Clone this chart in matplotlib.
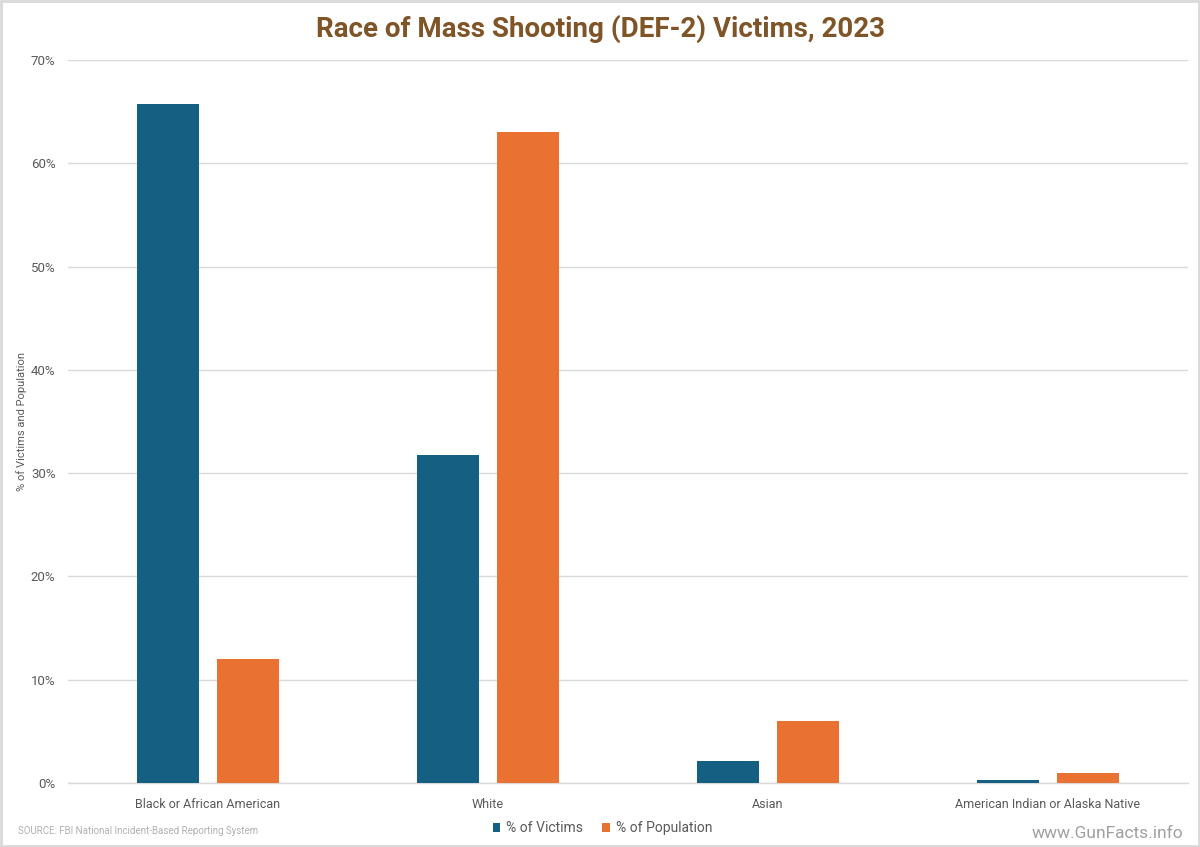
import matplotlib.pyplot as plt
import numpy as np
from matplotlib.patches import Rectangle

categories = ["Black or African American", "White", "Asian", "American Indian or Alaska Native"]
pct_victims = [65.7, 31.8, 2.1, 0.3]
pct_population = [12.0, 63.0, 6.0, 1.0]
series_names = ["% of Victims", "% of Population"]
yticks = [0, 10, 20, 30, 40, 50, 60, 70]

VICTIM_COLOR = "#155F82"
POP_COLOR = "#E97132"
NARROW = ["Roboto", "DejaVu Sans"]

fig = plt.figure(figsize=(12, 8.47), dpi=100)
ax = fig.add_axes([0.0567, 0.0756, 0.9333, 0.8535])

x = np.arange(len(categories))
width = 0.22
offset = 0.143
ax.bar(x - offset, pct_victims, width, color=VICTIM_COLOR, label=series_names[0], zorder=3)
ax.bar(x + offset, pct_population, width, color=POP_COLOR, label=series_names[1], zorder=3)

ax.set_xlim(-0.5, len(categories) - 0.5)
ax.set_ylim(0, 70)
ax.set_yticks(yticks)
ax.set_yticklabels([f"{t}%" for t in yticks], family=NARROW, fontsize=9.5, color="#595959")
ax.set_xticks(x)
ax.set_xticklabels(categories, family=NARROW, fontsize=9, color="#595959")
ax.tick_params(axis="y", length=0, pad=9)
ax.tick_params(axis="x", length=0, pad=11)
ax.yaxis.grid(True, color="#D9D9D9", linewidth=1, zorder=0)
for s in ["top", "right", "left"]:
    ax.spines[s].set_visible(False)
ax.spines["bottom"].set_color("#D9D9D9")
ax.spines["bottom"].set_linewidth(1)

fig.text(0.018, 0.502, "% of Victims and Population", rotation=90, family=NARROW,
         fontsize=8, color="#595959", ha="center", va="center")

fig.text(0.5, 0.966, "Race of Mass Shooting (DEF-2) Victims, 2023", ha="center", va="center",
         family=NARROW, fontsize=20, fontweight="bold", color="#7F5427")

leg = fig.legend(loc="center", bbox_to_anchor=(0.502, 0.022), ncol=2, frameon=False,
                 prop={"family": NARROW, "size": 10}, handlelength=0.55, handleheight=0.55,
                 columnspacing=1.4, handletextpad=0.4)
for t in leg.get_texts():
    t.set_color("#595959")

fig.text(0.015, 0.019, "SOURCE: FBI National Incident-Based Reporting System", family=NARROW,
         fontsize=7, color="#B0B0B0", ha="left", va="center")
fig.text(0.986, 0.016, "www.GunFacts.info", family=NARROW, fontsize=12.5, color="#A0A0A0",
         ha="right", va="center")

fig.patches.append(Rectangle((0.001, 0.001), 0.998, 0.998, transform=fig.transFigure,
                             fill=False, edgecolor="#D9D9D9", linewidth=2))

fig.savefig("out.png", dpi=100, facecolor="white")
